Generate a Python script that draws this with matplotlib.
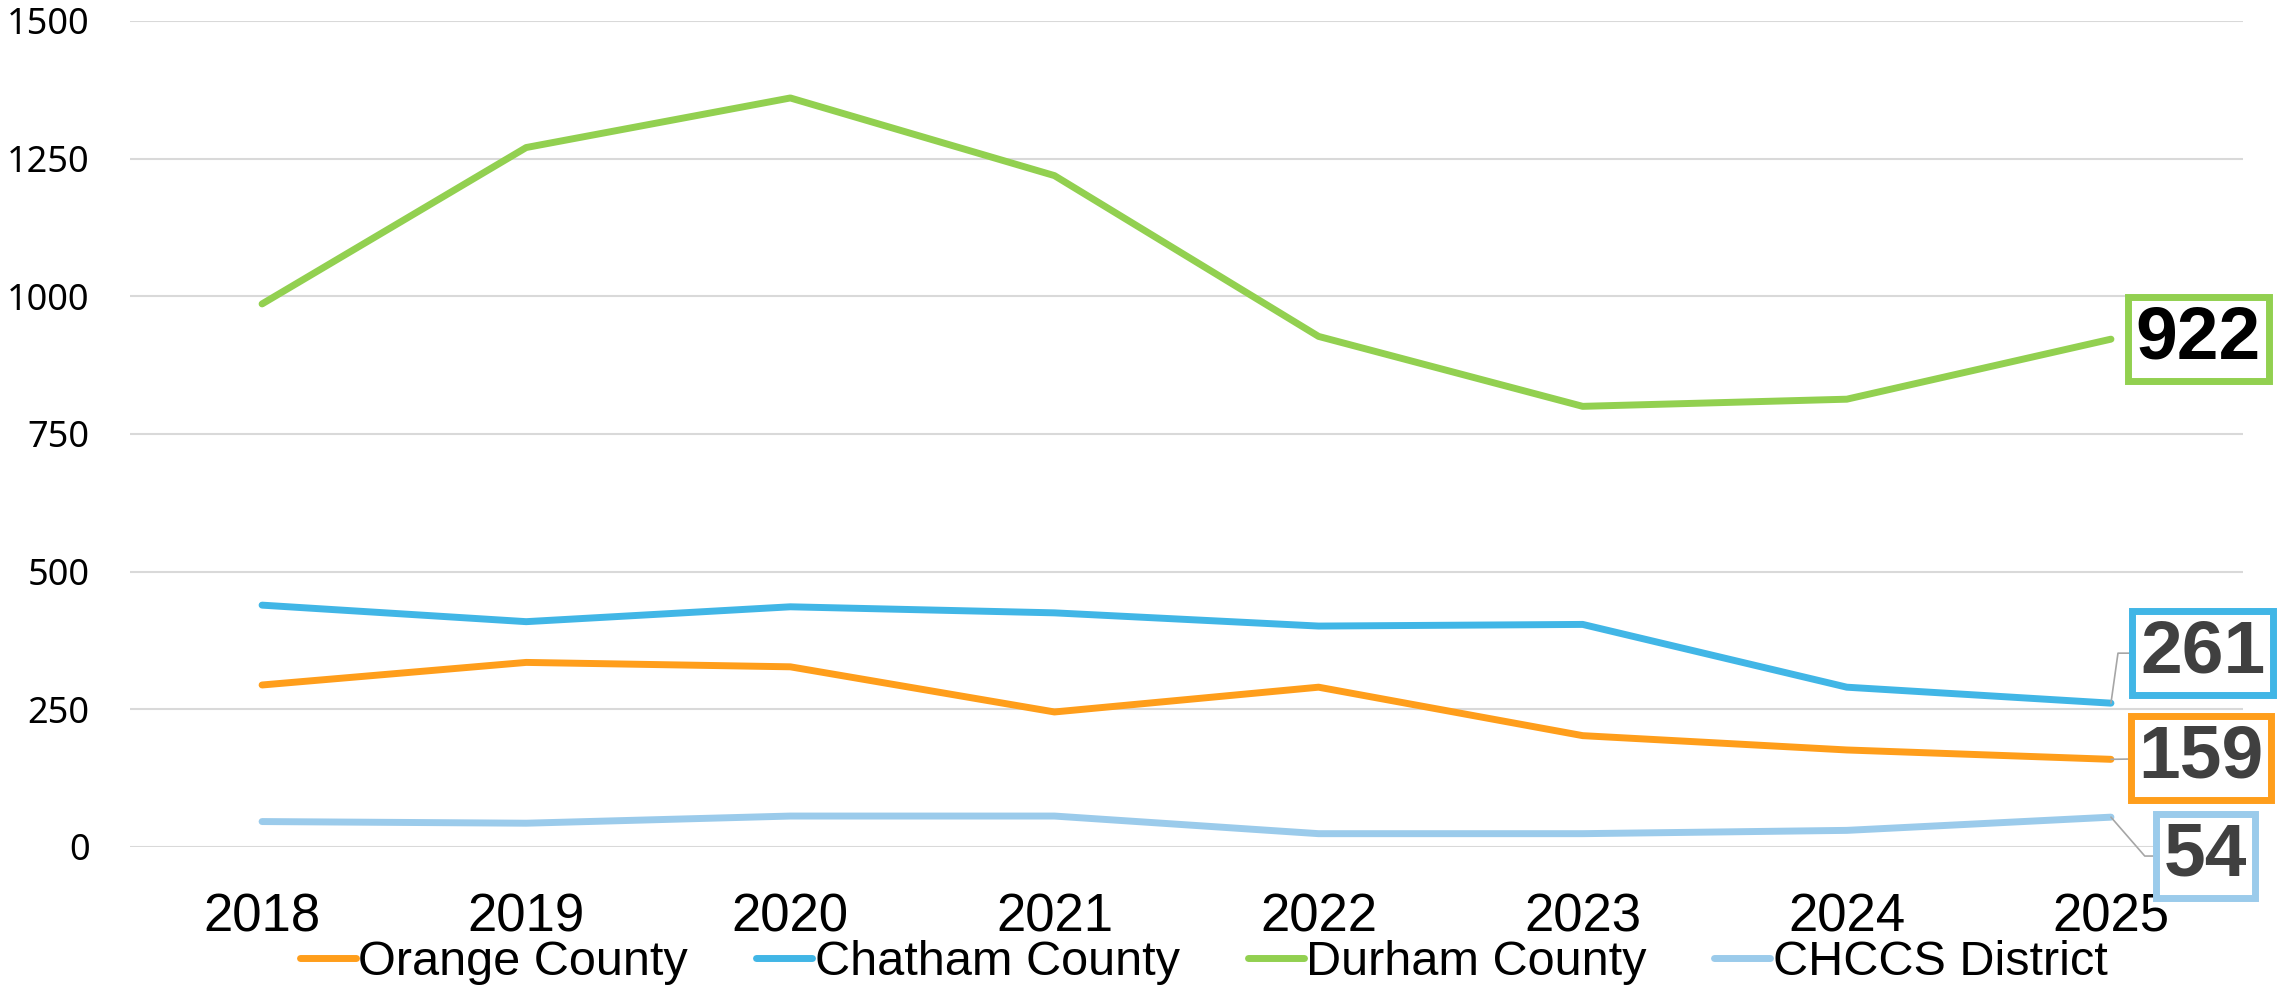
import matplotlib
matplotlib.use("Agg")
import matplotlib.pyplot as plt

# data
years = ["2018", "2019", "2020", "2021", "2022", "2023", "2024", "2025"]
orange = [294, 335, 327, 245, 290, 202, 176, 159]
chatham = [439, 409, 436, 425, 401, 404, 290, 261]
durham = [986, 1270, 1360, 1219, 927, 800, 813, 922]
chccs = [46, 43, 56, 56, 24, 24, 30, 54]

series = [
    ("Orange County", orange, "#FF9E1B"),
    ("Chatham County", chatham, "#41B6E6"),
    ("Durham County", durham, "#92D050"),
    ("CHCCS District", chccs, "#9BCBEB"),
]

fig = plt.figure(figsize=(22.93, 9.94), dpi=100)
ax = fig.add_axes([0.0567, 0.148, 0.9215, 0.831])

x = list(range(len(years)))
for name, vals, col in series:
    ax.plot(x, vals, color=col, lw=5, label=name, solid_capstyle="round", zorder=3)

ax.set_xlim(-0.5, len(years) - 0.5)
ax.set_ylim(0, 1500)
ax.set_yticks([0, 250, 500, 750, 1000, 1250, 1500])
ax.set_xticks(x)
ax.set_xticklabels(years, family="Liberation Sans", fontsize=38)
for lab in ax.get_yticklabels():
    lab.set_family("Noto Sans")
    lab.set_fontsize(26)
ax.tick_params(axis="y", length=0, pad=29)
ax.tick_params(axis="x", length=0, pad=33)
ax.grid(axis="y", color="#D9D9D9", lw=1.5, zorder=0)
for s in ax.spines.values():
    s.set_visible(False)

# end-of-line value labels (offsets in points, connector angles)
label_cfg = [
    (durham, "#92D050", "black", (63, 0), None),
    (chatham, "#41B6E6", "#404040", (66, 36), "angle,angleA=0,angleB=82,rad=0"),
    (orange, "#FF9E1B", "#404040", (65, 1), "arc3"),
    (chccs, "#9BCBEB", "#404040", (68, -28), "angle,angleA=0,angleB=-49,rad=0"),
]
for vals, edge, tcol, off, conn in label_cfg:
    kw = {}
    if conn:
        kw["arrowprops"] = dict(arrowstyle="-", color="#A6A6A6", lw=1.2,
                                connectionstyle=conn, shrinkA=0, shrinkB=0)
    ax.annotate(str(vals[-1]), xy=(x[-1], vals[-1]), xytext=off,
                textcoords="offset points", ha="center", va="center",
                fontsize=54, fontweight="bold", family="Liberation Sans",
                color=tcol, zorder=5,
                bbox=dict(boxstyle="square,pad=0.1", fc="white", ec=edge, lw=5),
                **kw)

fig.legend(loc="center", bbox_to_anchor=(0.525, 0.032), ncol=4, frameon=False,
           prop={"family": "Liberation Sans", "size": 35},
           handlelength=1.15, handletextpad=0.05, columnspacing=1.4)

fig.savefig("out.png", dpi=100)
